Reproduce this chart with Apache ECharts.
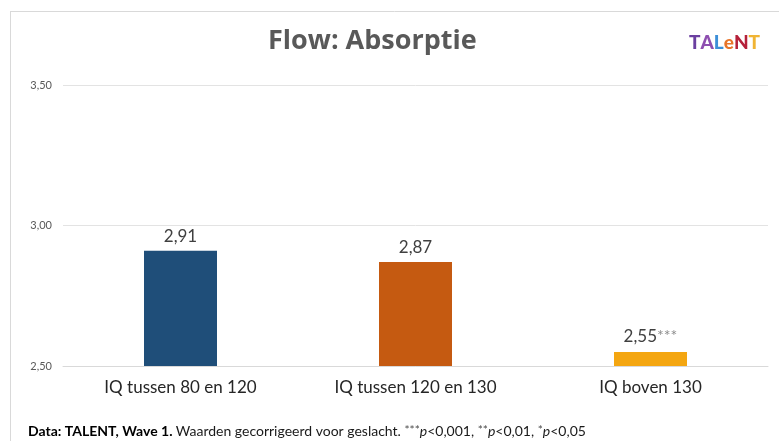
<!DOCTYPE html>
<html>
<head>
<meta charset="utf-8">
<style>
  html, body { margin: 0; padding: 0; background: #ffffff; }
  #chart { width: 779px; height: 441px; }
</style>
<script src="https://cdn.jsdelivr.net/npm/echarts@6/dist/echarts.min.js"></script>
</head>
<body>
<div id="chart"></div>
<script>
// IQ groups and their mean flow (absorption) scores, corrected for gender
const categories = ['IQ tussen 80 en 120', 'IQ tussen 120 en 130', 'IQ boven 130'];
const values = [2.91, 2.87, 2.55];
const significance = ['', '', '***'];
const barColors = ['#1F4E79', '#C55A11', '#F4A611'];
const yTicks = { min: 2.5, max: 3.5, interval: 0.5 };

const FONT = 'Lato, "Open Sans", sans-serif';
const TITLE_FONT = '"Open Sans", Lato, sans-serif';
const fmt = v => v.toFixed(2).replace('.', ',');

const chart = echarts.init(document.getElementById('chart'), null, { renderer: 'canvas' });

chart.setOption({
  backgroundColor: '#ffffff',
  animation: false,
  title: {
    text: 'Flow: Absorptie',
    left: 263,
    top: 23,
    textStyle: { fontFamily: TITLE_FONT, fontSize: 27, fontWeight: 'bold', color: '#595959' }
  },
  grid: { left: 63, right: 11, top: 85, bottom: 75, containLabel: false },
  xAxis: {
    type: 'category',
    data: categories,
    axisLine: { show: true, lineStyle: { color: '#d9d9d9', width: 1 } },
    axisTick: { show: false },
    axisLabel: { fontFamily: FONT, fontSize: 17, color: '#262626', margin: 13 }
  },
  yAxis: {
    type: 'value',
    min: yTicks.min,
    max: yTicks.max,
    interval: yTicks.interval,
    axisLine: { show: false },
    axisTick: { show: false },
    splitLine: { lineStyle: { color: '#e3e3e3', width: 1 } },
    axisLabel: {
      fontFamily: FONT, fontSize: 11, color: '#595959', margin: 11,
      formatter: v => fmt(v)
    }
  },
  series: [{
    type: 'bar',
    barWidth: 73,
    data: values.map((v, i) => ({ value: v, itemStyle: { color: barColors[i] } })),
    label: {
      show: true,
      position: 'top',
      distance: 6,
      fontFamily: FONT,
      fontSize: 17,
      color: '#404040',
      backgroundColor: '#ffffff',
      padding: [0, 4, 0, 4],
      formatter: p => significance[p.dataIndex]
        ? '{v|' + fmt(p.value) + '}{s|' + significance[p.dataIndex] + '}'
        : '{v|' + fmt(p.value) + '}',
      rich: {
        v: { fontFamily: FONT, fontSize: 17, color: '#404040' },
        s: { fontFamily: FONT, fontSize: 16, color: '#8c8c8c', verticalAlign: 'top', padding: [0, 0, 2, 0] }
      }
    }
  }],
  graphic: [
    // frame lines along the top and left
    { type: 'line', shape: { x1: 10, y1: 11.5, x2: 779, y2: 11.5 }, style: { stroke: '#d9d9d9', lineWidth: 1 } },
    { type: 'line', shape: { x1: 10.5, y1: 11, x2: 10.5, y2: 441 }, style: { stroke: '#d9d9d9', lineWidth: 1 } },
    // TALENT logo
    {
      type: 'text',
      left: 689,
      top: 33,
      style: {
        text: '{a|T}{b|A}{c|L}{d|e}{e|N}{f|T}',
        rich: {
          a: { fontFamily: FONT, fontSize: 19, fontWeight: 900, fill: '#6B3FA0' },
          b: { fontFamily: FONT, fontSize: 19, fontWeight: 900, fill: '#8E4FB0' },
          c: { fontFamily: FONT, fontSize: 19, fontWeight: 900, fill: '#3D8FD8' },
          d: { fontFamily: FONT, fontSize: 19, fontWeight: 900, fill: '#E8752A' },
          e: { fontFamily: FONT, fontSize: 19, fontWeight: 900, fill: '#B5213A' },
          f: { fontFamily: FONT, fontSize: 19, fontWeight: 900, fill: '#F0B434' }
        }
      }
    },
    // data source footnote
    {
      type: 'text',
      left: 28,
      top: 424,
      style: {
        text: '{b|Data: TALENT, Wave 1.} {r|Waarden gecorrigeerd voor geslacht. }{s|***}{i|p}{r|<0,001, }{s|**}{i|p}{r|<0,01, }{s|*}{i|p}{r|<0,05}',
        rich: {
          b: { fontFamily: FONT, fontSize: 14, fontWeight: 'bold', fill: '#000000' },
          r: { fontFamily: FONT, fontSize: 14, fill: '#1a1a1a' },
          i: { fontFamily: FONT, fontSize: 14, fontStyle: 'italic', fill: '#1a1a1a' },
          s: { fontFamily: FONT, fontSize: 12, fill: '#4d4d4d', verticalAlign: 'top' }
        }
      }
    }
  ]
});
</script>
</body>
</html>
